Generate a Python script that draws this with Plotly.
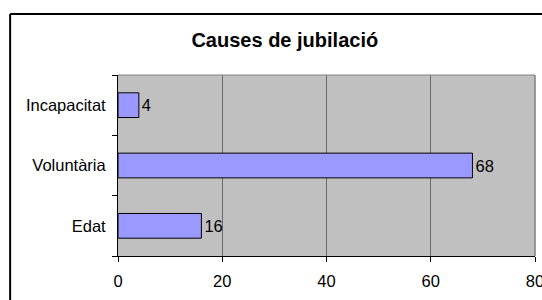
import plotly.graph_objects as go

categories = ["Edat", "Voluntària", "Incapacitat"]
values = [16, 68, 4]
x_ticks = [0, 20, 40, 60, 80]
title_text = "Causes de jubilació"

W, H = 542, 300
L, R, T, B = 118, 6.5, 75, 44
pw = W - L - R
ph = H - T - B

fig = go.Figure(go.Bar(
    y=categories, x=values, orientation="h",
    marker=dict(color="#9999FF", line=dict(color="#000000", width=1)),
    text=[str(v) for v in values], textposition="outside",
    textfont=dict(family="Liberation Sans, Arial", size=16.5, color="#000"),
    cliponaxis=False, width=0.41,
))

fig.update_layout(
    width=W, height=H,
    margin=dict(l=L, r=R, t=T, b=B, autoexpand=False),
    paper_bgcolor="white", plot_bgcolor="#C0C0C0",
    showlegend=False,
    font=dict(family="Liberation Sans, Arial", size=16.5, color="#000"),
    title=dict(text="<b>" + title_text + "</b>", x=(285 - L) / pw, xref="paper",
               xanchor="center", y=1 - 40 / H, yref="container", yanchor="middle",
               font=dict(size=20, color="#000")),
    xaxis=dict(range=[0, 80], tickvals=x_ticks, showgrid=True, gridcolor="#6a6a6a",
               gridwidth=1, showline=True, linecolor="#000", linewidth=1,
               ticks="outside", ticklen=5, tickcolor="#000", zeroline=False,
               ticklabelstandoff=5, ticklabeloverflow="allow", fixedrange=True),
    yaxis=dict(range=[-0.5, 2.5], showgrid=False, showline=True, linecolor="#000",
               linewidth=1, ticks="outside", ticklen=5, tickcolor="#000",
               tickson="boundaries", zeroline=False, ticklabelstandoff=8,
               fixedrange=True),
    shapes=[
        dict(type="line", xref="paper", yref="paper", x0=0, x1=1, y0=1, y1=1,
             line=dict(color="#808080", width=1)),
        dict(type="line", xref="paper", yref="paper", x0=1, x1=1, y0=0, y1=1,
             line=dict(color="#808080", width=1.5)),
        dict(type="line", xref="paper", yref="paper",
             x0=(10 - L) / pw, x1=(W + 20 - L) / pw,
             y0=(H - B - 14) / ph, y1=(H - B - 14) / ph,
             line=dict(color="#000", width=2)),
        dict(type="line", xref="paper", yref="paper",
             x0=(10 - L) / pw, x1=(10 - L) / pw,
             y0=(H - B - 14) / ph, y1=-(B + 20) / ph,
             line=dict(color="#000", width=2)),
    ],
)

fig.write_html(
    "out.html",
    config={"displayModeBar": False},
    post_script="document.body.style.margin='0';document.body.style.overflow='hidden';",
)
